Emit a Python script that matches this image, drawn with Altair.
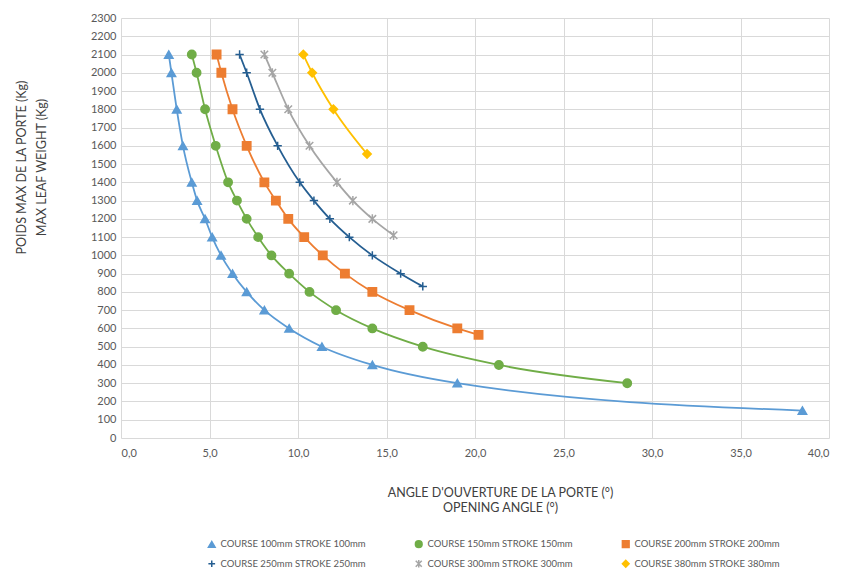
import altair as alt
import pandas as pd

series_names = [
    "COURSE 100mm STROKE 100mm",
    "COURSE 150mm STROKE 150mm",
    "COURSE 200mm STROKE 200mm",
    "COURSE 250mm STROKE 250mm",
    "COURSE 300mm STROKE 300mm",
    "COURSE 380mm STROKE 380mm",
]
colors = ["#5B9BD5", "#70AD47", "#ED7D31", "#255E91", "#A5A5A5", "#FFC000"]
shapes = [
    "triangle-up",
    "circle",
    "square",
    "M-1,0H1M0,-1V1",
    "M-0.9,-0.9L0.9,0.9M-0.9,0.9L0.9,-0.9M0,-1.1V1.1",
    "diamond",
]

y100 = [2100, 2000, 1800, 1600, 1400, 1300, 1200, 1100, 1000, 900, 800, 700, 600, 500, 400, 300, 150]
x100 = [2.7, 2.85, 3.15, 3.5, 4.0, 4.3, 4.75, 5.15, 5.65, 6.3, 7.1, 8.1, 9.5, 11.35, 14.2, 19.0, 38.5]

y150 = [2100, 2000, 1800, 1600, 1400, 1300, 1200, 1100, 1000, 900, 800, 700, 600, 500, 400, 300]
x150 = [4.0, 4.27, 4.75, 5.35, 6.05, 6.55, 7.1, 7.75, 8.5, 9.5, 10.65, 12.15, 14.2, 17.05, 21.35, 28.6]

y200 = [2100, 2000, 1800, 1600, 1400, 1300, 1200, 1100, 1000, 900, 800, 700, 600, 565]
x200 = [5.4, 5.67, 6.3, 7.1, 8.1, 8.75, 9.45, 10.35, 11.4, 12.65, 14.2, 16.3, 19.0, 20.2]

y250 = [2100, 2000, 1800, 1600, 1400, 1300, 1200, 1100, 1000, 900, 830]
x250 = [6.7, 7.1, 7.85, 8.85, 10.1, 10.9, 11.8, 12.9, 14.2, 15.8, 17.05]

y300 = [2100, 2000, 1800, 1600, 1400, 1300, 1200, 1110]
x300 = [8.1, 8.55, 9.45, 10.65, 12.2, 13.1, 14.2, 15.4]

y380 = [2100, 2000, 1800, 1555]
x380 = [10.3, 10.8, 12.0, 13.9]

x_ticks = [0, 5, 10, 15, 20, 25, 30, 35, 40]
y_ticks = list(range(0, 2301, 100))

rows = []
for name, xs, ys in zip(
    series_names,
    [x100, x150, x200, x250, x300, x380],
    [y100, y150, y200, y250, y300, y380],
):
    for xv, yv in zip(xs, ys):
        rows.append({"series": name, "angle": xv, "weight": yv})
df = pd.DataFrame(rows)

FONT = "Lato"
LABEL_COLOR = "#595959"
GRID = "#D9D9D9"

x_enc = alt.X(
    "angle:Q",
    scale=alt.Scale(domain=[0, 40], nice=False),
    axis=alt.Axis(
        values=x_ticks,
        labelExpr="replace(format(datum.value, '.1f'), '.', ',')",
        title=["ANGLE D'OUVERTURE DE LA PORTE (°)", "OPENING ANGLE (°)"],
        titleX=379,
        titleY=48,
        titleAlign="center",
        titleBaseline="top",
        titleLineHeight=15,
        labelPadding=9,
    ),
)
y_enc = alt.Y(
    "weight:Q",
    scale=alt.Scale(domain=[0, 2300], nice=False),
    axis=alt.Axis(
        values=y_ticks,
        format="d",
        title=["POIDS MAX DE LA PORTE (Kg)", "MAX LEAF WEIGHT (Kg)"],
        titleX=-106,
        titleY=149,
        titleAngle=-90,
        titleAlign="center",
        titleBaseline="top",
        titleLineHeight=20,
        labelPadding=5,
    ),
)

color_scale = alt.Scale(domain=series_names, range=colors)
shape_scale = alt.Scale(domain=series_names, range=shapes)

legend = alt.Legend(
    title=None,
    orient="none",
    legendX=86,
    legendY=521,
    direction="horizontal",
    columns=3,
    labelFont=FONT,
    labelFontSize=9.5,
    labelColor=LABEL_COLOR,
    symbolSize=45,
    symbolStrokeWidth=1.5,
    columnPadding=46,
    rowPadding=6,
    labelLimit=220,
)

lines = (
    alt.Chart(df)
    .mark_line(interpolate="monotone", strokeWidth=1.8)
    .encode(
        x=x_enc,
        y=y_enc,
        stroke=alt.Stroke("series:N", scale=color_scale, legend=legend),
        detail="series:N",
    )
)

points = (
    alt.Chart(df)
    .mark_point(filled=True, opacity=1, size=70, strokeWidth=1.5)
    .encode(
        x=x_enc,
        y=y_enc,
        fill=alt.Fill("series:N", scale=color_scale, legend=legend),
        stroke=alt.Stroke("series:N", scale=color_scale, legend=legend),
        shape=alt.Shape("series:N", scale=shape_scale, legend=legend),
    )
)

chart = (
    alt.layer(lines, points)
    .properties(
        width=708,
        height=420,
        autosize=alt.AutoSizeParams(type="none"),
        padding={"left": 113, "top": 10, "right": 10, "bottom": 145},
    )
    .configure_view(stroke=None)
    .configure_axis(
        labelFont=FONT,
        titleFont=FONT,
        labelFontSize=11,
        titleFontSize=12.5,
        titleFontWeight="normal",
        labelColor=LABEL_COLOR,
        titleColor="#404040",
        gridColor=GRID,
        gridWidth=1,
        domain=False,
        ticks=False,
    )
)

chart.save("out.html", embed_options={"renderer": "svg", "actions": False})
